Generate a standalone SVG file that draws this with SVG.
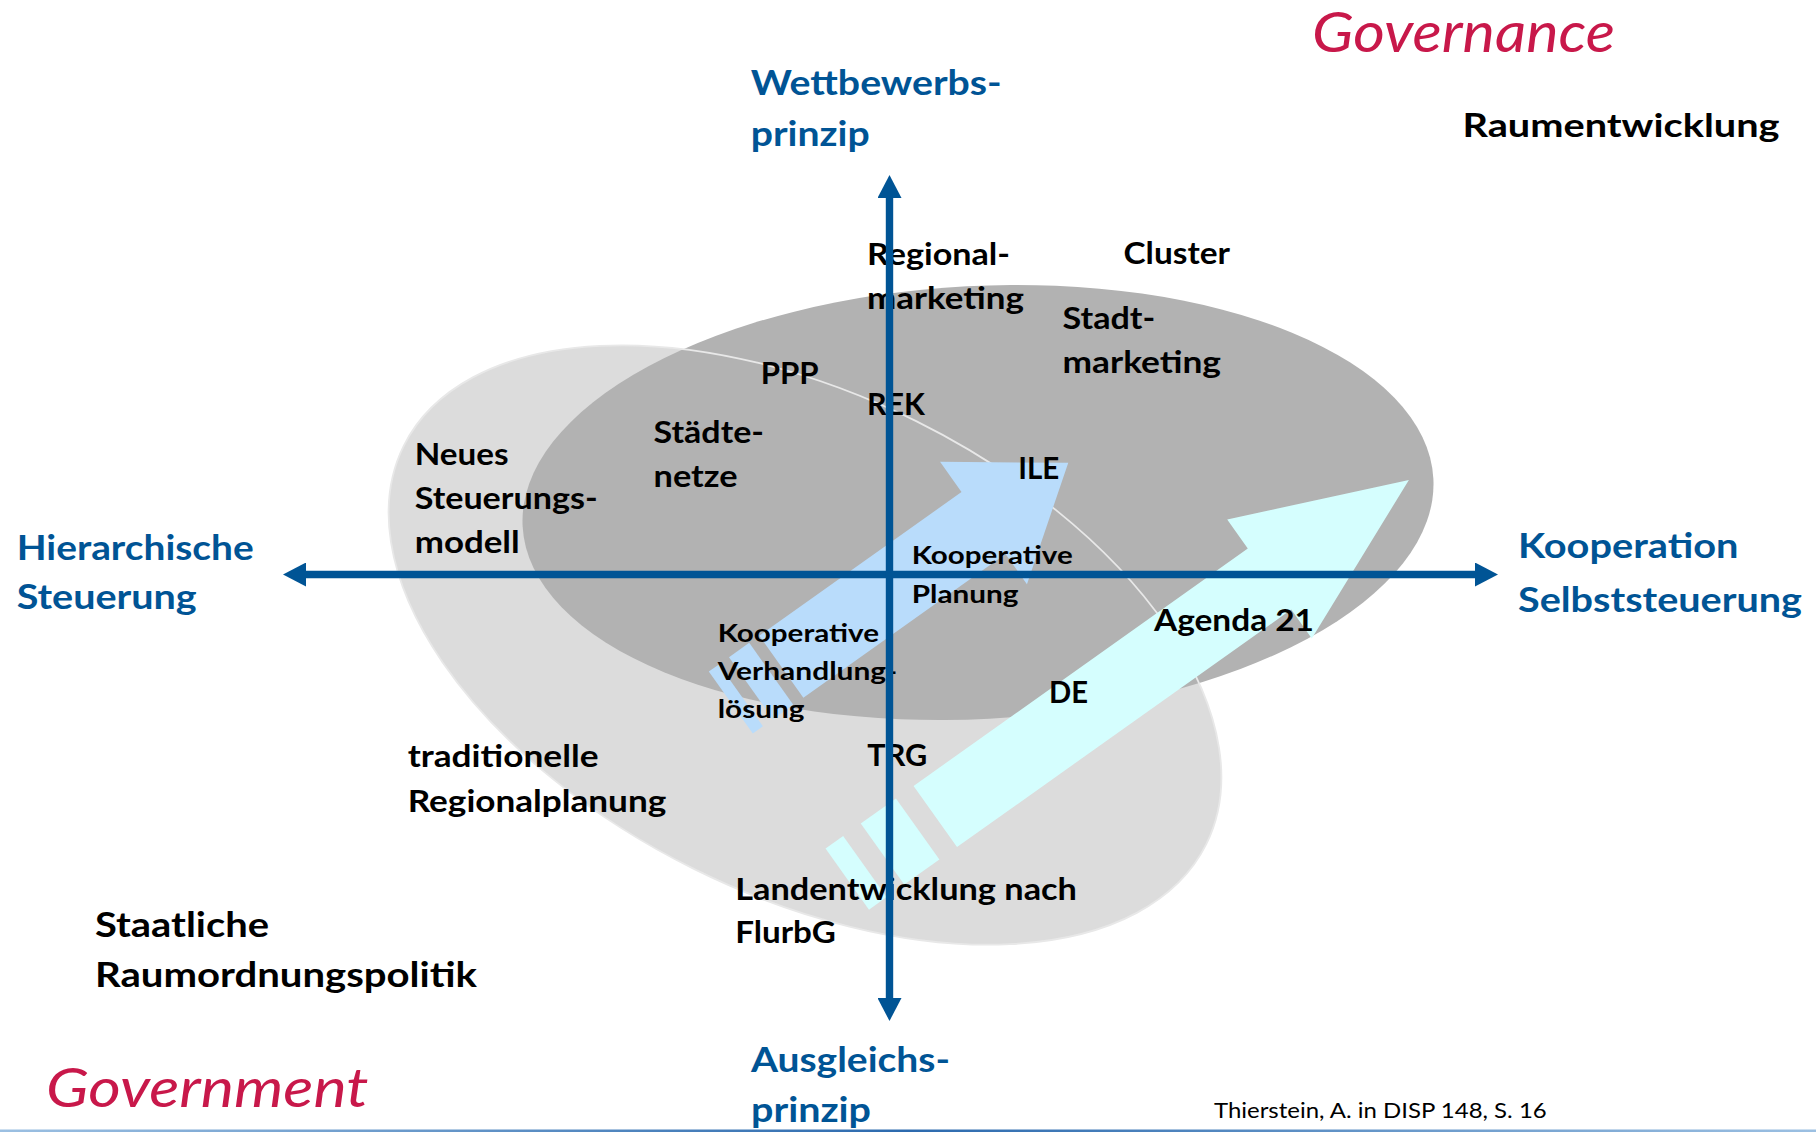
<svg xmlns="http://www.w3.org/2000/svg" width="1816" height="1132" viewBox="0 0 1816 1132">
<defs>
<style>
text{font-family:Lato,"Open Sans","Liberation Sans",sans-serif;}
.b{font-weight:700;font-size:29.5px;fill:#000;}
.s{font-weight:700;font-size:25px;fill:#000;}
.ax{font-weight:700;font-size:34.5px;fill:#005495;}
.ob{font-weight:700;font-size:34.5px;fill:#000;}
.rw{font-weight:700;font-size:32.7px;fill:#000;}
.gv{font-style:italic;font-weight:400;fill:#C8184A;}
.src{font-weight:400;font-size:21px;fill:#000;}
.axis{stroke:#005495;stroke-width:7.4;fill:none;}
</style>
<marker id="ah" viewBox="0 0 23 24" refX="0" refY="12" markerWidth="23" markerHeight="24" markerUnits="userSpaceOnUse" orient="auto-start-reverse">
<path d="M0,0 L23,12 L0,24 z" fill="#005495"/>
</marker>
<linearGradient id="bl" x1="0" y1="0" x2="1" y2="0">
<stop offset="0" stop-color="#9CC0E2"/>
<stop offset="0.5" stop-color="#2C6AAE"/>
<stop offset="1" stop-color="#9CC0E2"/>
</linearGradient>
</defs>
<rect width="1816" height="1132" fill="#FFFFFF"/>
<g id="background">
<ellipse cx="805" cy="645" rx="448" ry="250" transform="rotate(26.4 805 645)" fill="#DCDCDC"/>
<ellipse cx="978" cy="502.5" rx="456" ry="216.5" transform="rotate(-3 978 502.5)" fill="#B2B2B2"/>
<ellipse cx="805" cy="645" rx="448" ry="250" transform="rotate(26.4 805 645)" fill="none" stroke="#E8E8E8" stroke-width="1.8"/>
</g>
<g id="arrow-kooperativ" transform="translate(983.5,523) rotate(-35.4)" fill="#B9DCFB">
<polygon points="0,-38 0,-75 104,0 0,75 0,38 -248,38 -248,-38"/>
<rect x="-285.2" y="-38" width="24.8" height="76"/>
<rect x="-310" y="-38" width="12.4" height="76"/>
</g>
<g id="arrow-governance" transform="translate(1269.5,579) rotate(-35.4)" fill="#D5FEFE">
<polygon points="0,-37.5 0,-73 171,0 0,73 0,37.5 -410,37.5 -410,-37.5"/>
<rect x="-474.8" y="-37.5" width="43.2" height="75"/>
<rect x="-518" y="-37.5" width="21.6" height="75"/>
</g>
<g id="n-governance"><text class="gv" x="1312" y="51.7" font-size="55.8" textLength="303" lengthAdjust="spacingAndGlyphs">Governance</text></g>
<g id="n-raumentwicklung"><text class="rw" x="1462.5" y="136.7" textLength="317" lengthAdjust="spacingAndGlyphs">Raumentwicklung</text></g>
<g id="n-wettbewerb">
<text class="ax" x="750.7" y="95" textLength="251" lengthAdjust="spacingAndGlyphs">Wettbewerbs-</text>
<text class="ax" x="750.7" y="146" textLength="119" lengthAdjust="spacingAndGlyphs">prinzip</text>
</g>
<g id="n-hierarchisch">
<text class="ax" x="16.7" y="560" textLength="237" lengthAdjust="spacingAndGlyphs">Hierarchische</text>
<text class="ax" x="16.7" y="608.5" textLength="180" lengthAdjust="spacingAndGlyphs">Steuerung</text>
</g>
<g id="n-kooperation">
<text class="ax" x="1518" y="558.3" textLength="220.5" lengthAdjust="spacingAndGlyphs">Kooperation</text>
<text class="ax" x="1518" y="611.7" textLength="284" lengthAdjust="spacingAndGlyphs">Selbststeuerung</text>
</g>
<g id="n-ausgleich">
<text class="ax" x="751" y="1071.7" textLength="199" lengthAdjust="spacingAndGlyphs">Ausgleichs-</text>
<text class="ax" x="751" y="1121.7" textLength="120" lengthAdjust="spacingAndGlyphs">prinzip</text>
</g>
<g id="n-government"><text class="gv" x="46" y="1106.7" font-size="54" textLength="322.5" lengthAdjust="spacingAndGlyphs">Government</text></g>
<g id="n-staatlich">
<text class="ob" x="95" y="937.3" textLength="174" lengthAdjust="spacingAndGlyphs">Staatliche</text>
<text class="ob" x="95" y="987.3" textLength="382" lengthAdjust="spacingAndGlyphs">Raumordnungspolitik</text>
</g>
<g id="n-quelle"><text class="src" x="1214" y="1118.3" textLength="332.7" lengthAdjust="spacingAndGlyphs">Thierstein, A. in DISP 148, S. 16</text></g>
<g id="n-regionalmarketing">
<text class="b" x="867" y="265" textLength="143" lengthAdjust="spacingAndGlyphs">Regional-</text>
<text class="b" x="867" y="309.3" textLength="157" lengthAdjust="spacingAndGlyphs">marketing</text>
</g>
<g id="n-cluster"><text class="b" x="1123.5" y="264" textLength="106.5" lengthAdjust="spacingAndGlyphs">Cluster</text></g>
<g id="n-stadtmarketing">
<text class="b" x="1062.5" y="329" textLength="92.7" lengthAdjust="spacingAndGlyphs">Stadt-</text>
<text class="b" x="1062.5" y="372.7" textLength="158.5" lengthAdjust="spacingAndGlyphs">marketing</text>
</g>
<g id="n-ppp"><text class="b" x="760.7" y="384.3" textLength="58" lengthAdjust="spacingAndGlyphs">PPP</text></g>
<g id="n-rek"><text class="b" x="867" y="415" textLength="58" lengthAdjust="spacingAndGlyphs">REK</text></g>
<g id="n-staedtenetze">
<text class="b" x="653.6" y="442.7" textLength="110.4" lengthAdjust="spacingAndGlyphs">Städte-</text>
<text class="b" x="653.6" y="487.3" textLength="84" lengthAdjust="spacingAndGlyphs">netze</text>
</g>
<g id="n-nsm">
<text class="b" x="414.7" y="465" textLength="93.8" lengthAdjust="spacingAndGlyphs">Neues</text>
<text class="b" x="414.7" y="509.3" textLength="183" lengthAdjust="spacingAndGlyphs">Steuerungs-</text>
<text class="b" x="414.7" y="553.3" textLength="105" lengthAdjust="spacingAndGlyphs">modell</text>
</g>
<g id="n-ile"><text class="b" x="1018.3" y="479.3" textLength="41" lengthAdjust="spacingAndGlyphs">ILE</text></g>
<g id="n-kooperative-planung">
<text class="s" x="911.7" y="564.3" textLength="161" lengthAdjust="spacingAndGlyphs">Kooperative</text>
<text class="s" x="911.7" y="602.7" textLength="106.7" lengthAdjust="spacingAndGlyphs">Planung</text>
</g>
<g id="n-kooperative-verhandlung">
<text class="s" x="717.7" y="641.7" textLength="161.3" lengthAdjust="spacingAndGlyphs">Kooperative</text>
<text class="s" x="717.7" y="680" textLength="179.6" lengthAdjust="spacingAndGlyphs">Verhandlung-</text>
<text class="s" x="717.7" y="718.3" textLength="86.7" lengthAdjust="spacingAndGlyphs">lösung</text>
</g>
<g id="n-agenda21"><text class="b" x="1154" y="630.5" textLength="160" lengthAdjust="spacingAndGlyphs">Agenda 21</text></g>
<g id="n-de"><text class="b" x="1049" y="702.7" textLength="39" lengthAdjust="spacingAndGlyphs">DE</text></g>
<g id="n-trg"><text class="b" x="867.3" y="766" textLength="60" lengthAdjust="spacingAndGlyphs">TRG</text></g>
<g id="n-regionalplanung">
<text class="b" x="407.7" y="766.7" textLength="190.8" lengthAdjust="spacingAndGlyphs">traditionelle</text>
<text class="b" x="407.7" y="811.7" textLength="258.6" lengthAdjust="spacingAndGlyphs">Regionalplanung</text>
</g>
<g id="n-landentwicklung">
<text class="b" x="735.2" y="900" textLength="341.8" lengthAdjust="spacingAndGlyphs">Landentwicklung nach</text>
<text class="b" x="735.2" y="943.3" textLength="100.8" lengthAdjust="spacingAndGlyphs">FlurbG</text>
</g>
<g id="connectors">
<line class="axis" x1="306" y1="574.5" x2="1475" y2="574.5" marker-start="url(#ah)" marker-end="url(#ah)"/>
<line class="axis" x1="889.5" y1="998" x2="889.5" y2="198" marker-start="url(#ah)" marker-end="url(#ah)"/>
</g>
<rect id="footer-line" x="0" y="1129.5" width="1816" height="2.5" fill="url(#bl)"/>
</svg>
